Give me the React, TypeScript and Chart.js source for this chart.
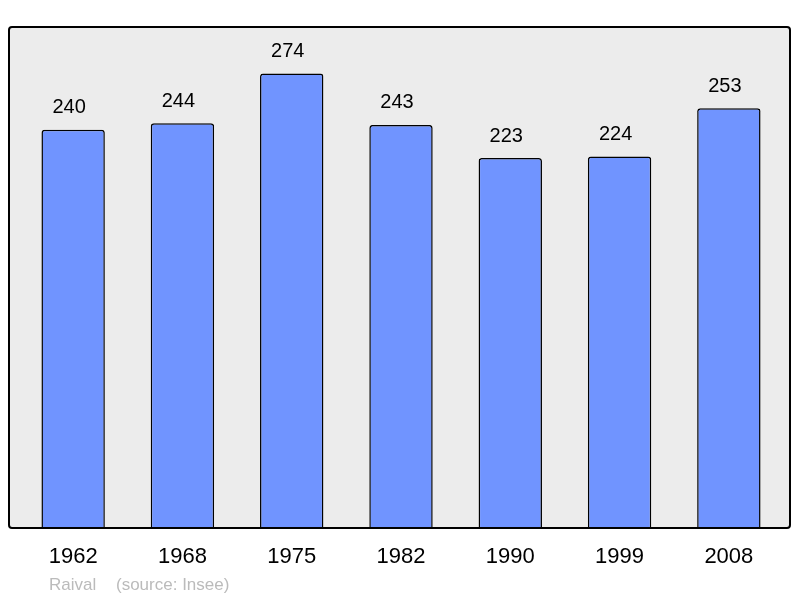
import React, { useEffect, useRef } from "react";
import { Chart, registerables } from "chart.js";

Chart.register(...registerables);

const years = ["1962", "1968", "1975", "1982", "1990", "1999", "2008"];
const population = [240, 244, 274, 243, 223, 224, 253];
const footerName = "Raival";
const footerSource = "(source: Insee)";

const FONT = "'Liberation Sans', Arial, sans-serif";

const frame = {
  id: "frame",
  beforeDraw(chart: any) {
    const { ctx, chartArea } = chart;
    const x0 = chartArea.left - 9.5;
    const x1 = chartArea.right + 6.5;
    const y0 = chartArea.top;
    const y1 = chartArea.bottom;
    ctx.save();
    ctx.beginPath();
    if (ctx.roundRect) ctx.roundRect(x0, y0, x1 - x0, y1 - y0, 3);
    else ctx.rect(x0, y0, x1 - x0, y1 - y0);
    ctx.fillStyle = "#ececec";
    ctx.fill();
    ctx.restore();
  },
  afterDatasetsDraw(chart: any) {
    const { ctx, chartArea } = chart;
    const x0 = chartArea.left - 9.5;
    const x1 = chartArea.right + 6.5;
    const y0 = chartArea.top;
    const y1 = chartArea.bottom;
    ctx.save();
    ctx.beginPath();
    if (ctx.roundRect) ctx.roundRect(x0, y0, x1 - x0, y1 - y0, 3);
    else ctx.rect(x0, y0, x1 - x0, y1 - y0);
    ctx.lineWidth = 2;
    ctx.strokeStyle = "#000";
    ctx.stroke();

    const meta = chart.getDatasetMeta(0);
    ctx.fillStyle = "#000";
    ctx.font = `20px ${FONT}`;
    ctx.textAlign = "center";
    ctx.textBaseline = "middle";
    meta.data.forEach((el: any, i: number) => {
      ctx.fillText(String(chart.data.datasets[0].data[i]), el.x - 4, el.y - 22);
    });

    ctx.fillStyle = "#bbbbbb";
    ctx.font = `17px ${FONT}`;
    ctx.textAlign = "left";
    ctx.fillText(footerName, 49, 585);
    ctx.fillText(footerSource, 116, 585);
    ctx.restore();
  },
};

export default function App() {
  const ref = useRef<HTMLCanvasElement>(null);
  useEffect(() => {
    document.body.style.margin = "0";
    const chart = new Chart(ref.current!, {
      type: "bar",
      data: {
        labels: years,
        datasets: [
          {
            data: population,
            backgroundColor: "#7094ff",
            borderColor: "#000",
            borderWidth: 1.5,
            borderRadius: { topLeft: 3, topRight: 3, bottomLeft: 0, bottomRight: 0 },
            borderSkipped: "bottom",
            barPercentage: 0.58,
            categoryPercentage: 1,
          },
        ],
      },
      options: {
        animation: false,
        responsive: false,
        devicePixelRatio: 1,
        layout: { padding: { left: 18.5, right: 16.5, top: 27, bottom: 0 } },
        plugins: { legend: { display: false }, tooltip: { enabled: false }, title: { display: false } },
        scales: {
          x: {
            grid: { display: false, drawTicks: false },
            border: { display: false },
            ticks: { color: "#000", font: { family: FONT, size: 22 }, padding: 16 },
            afterFit(scale: any) {
              scale.height = 70;
            },
          },
          y: { display: false, min: 0, max: 302 },
        },
      },
      plugins: [frame],
    });
    return () => chart.destroy();
  }, []);
  return (
    <div style={{ position: "absolute", left: 0, top: 0, width: 800, height: 598 }}>
      <canvas ref={ref} width={800} height={598} style={{ display: "block", width: 800, height: 598 }} />
    </div>
  );
}
